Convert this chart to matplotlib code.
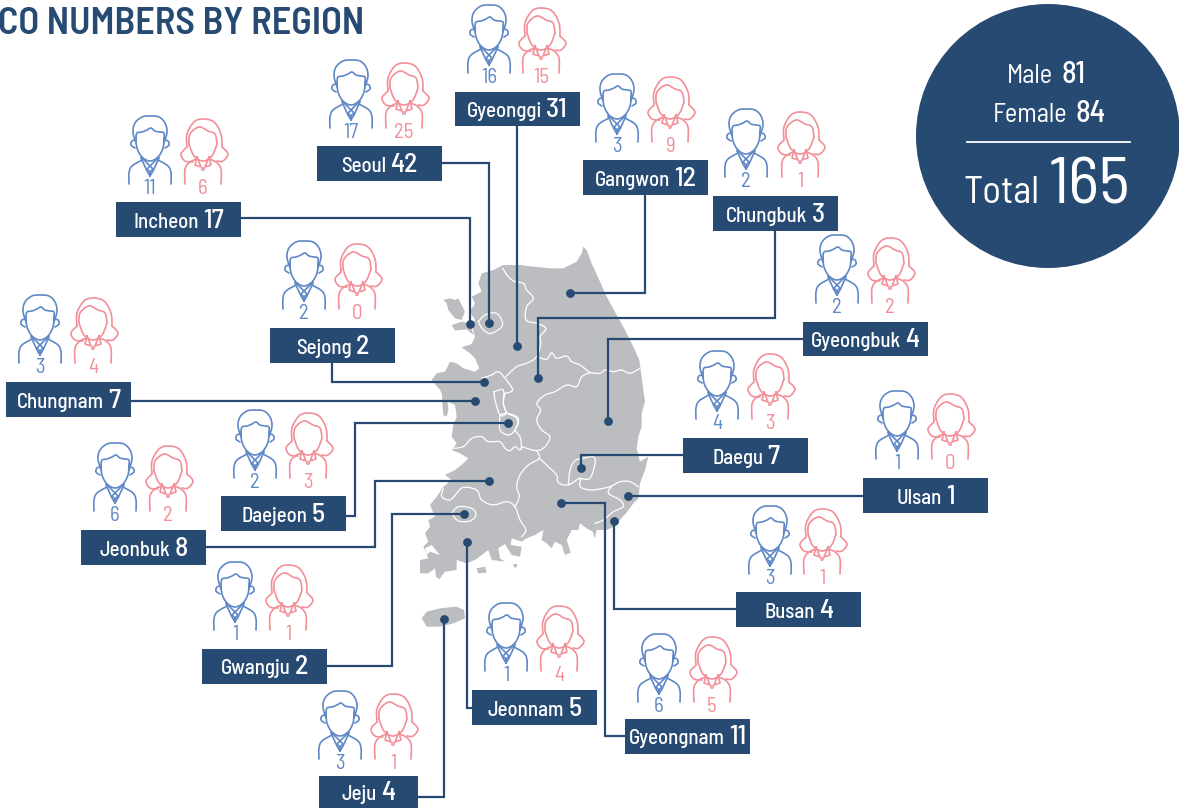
import numpy as np
import matplotlib
matplotlib.use('Agg')
import matplotlib.pyplot as plt
from matplotlib.patches import Circle, Polygon, Rectangle

# data
regions = ['Seoul', 'Gyeonggi', 'Gangwon', 'Chungbuk', 'Incheon', 'Sejong', 'Gyeongbuk', 'Chungnam', 'Daejeon',
           'Jeonbuk', 'Daegu', 'Ulsan', 'Busan', 'Gwangju', 'Jeonnam', 'Gyeongnam', 'Jeju']
male = [17, 16, 3, 2, 11, 2, 2, 3, 2, 6, 4, 1, 3, 1, 1, 6, 3]
female = [25, 15, 9, 1, 6, 0, 2, 4, 3, 2, 3, 0, 1, 1, 4, 5, 1]
totals = [42, 31, 12, 3, 17, 2, 4, 7, 5, 8, 7, 1, 4, 2, 5, 11, 4]
male_total = 81
female_total = 84
grand_total = 165

NAVY = '#264a72'
BLUE = '#5f88c6'
PINK = '#f28f98'
GREY = '#bcbdc1'
WORD_FONT = ['Barlow Semi Condensed', 'Roboto']
NUM_FONT = ['Barlow Semi Condensed', 'Roboto']

# layout, in pixels of the picture: box x0, x1, y0, y1
boxes = [(317, 442, 146, 181), (455, 580, 92, 126), (583, 708, 160, 195), (713, 838, 196, 231),
         (116, 241, 202, 237), (270, 395, 328, 363), (803, 928, 322, 356), (6, 131, 382, 417),
         (221, 346, 496, 531), (81, 206, 530, 565), (683, 808, 438, 473), (863, 988, 478, 513),
         (736, 861, 592, 627), (202, 327, 649, 684), (472, 597, 690, 725), (625, 750, 719, 754),
         (319, 418, 776, 808)]
# icon layout: male x, female x, top y
icons = [(351, 404, 60), (489, 541, 5), (617, 670, 74), (746, 800, 109), (150, 203, 116), (304, 357, 241),
         (837, 890, 235), (40, 93, 295), (255, 308, 410), (115, 168, 443), (717, 770, 351), (897, 950, 391),
         (770, 822, 506), (235, 288, 562), (506, 559, 603), (659, 712, 634), (340, 393, 691)]
leaders = [[(442, 163), (489, 163), (489, 323)],
           [(517, 126), (517, 346)],
           [(645, 195), (645, 293), (570, 293)],
           [(775, 231), (775, 318), (538, 318), (538, 378)],
           [(241, 218), (470, 218), (470, 324)],
           [(332, 363), (332, 382), (484, 382)],
           [(803, 339), (608, 339), (608, 421)],
           [(131, 401), (475, 401)],
           [(346, 516), (355, 516), (355, 423), (508, 423)],
           [(206, 547), (375, 547), (375, 481), (489, 481)],
           [(683, 455), (581, 455), (581, 468)],
           [(863, 496), (628, 496)],
           [(736, 609), (614, 609), (614, 521)],
           [(327, 666), (392, 666), (392, 514), (464, 514)],
           [(472, 708), (467, 708), (467, 542)],
           [(625, 736), (605, 736), (605, 503), (561, 503)],
           [(418, 797), (444, 797), (444, 619)]]

# map shapes
mainland = [(490, 20), (500, 30), (515, 70), (540, 125), (560, 170), (590, 225), (615, 270), (640, 320), (658, 360),
            (665, 410), (670, 450), (675, 485), (665, 520), (665, 560), (655, 590), (650, 625), (660, 665), (685, 650),
            (675, 690), (660, 730), (655, 775), (640, 790), (622, 815), (600, 840), (582, 860), (560, 870), (530, 870),
            (525, 895), (518, 875), (500, 865), (480, 850), (475, 870), (455, 870), (440, 900), (452, 938), (435, 945),
            (425, 915), (405, 905), (395, 925), (380, 910), (365, 900), (370, 870), (345, 885), (320, 895), (305, 905),
            (275, 895), (272, 915), (305, 920), (300, 950), (275, 945), (255, 912), (235, 925), (240, 955), (255, 965),
            (215, 960), (205, 930), (165, 960), (140, 970), (110, 960), (110, 990), (75, 995), (58, 1018), (48, 1010),
            (45, 985), (25, 1000), (0, 1000), (0, 960), (25, 955), (10, 920), (25, 905), (15, 880), (30, 860), (25, 840),
            (45, 830), (30, 795), (50, 770), (70, 740), (95, 720), (75, 705), (105, 690), (130, 670), (145, 655),
            (120, 640), (95, 630), (110, 610), (95, 590), (100, 555), (110, 530), (105, 495), (75, 480), (60, 450),
            (35, 420), (50, 400), (75, 395), (90, 365), (110, 370), (130, 385), (165, 395), (178, 385), (165, 355),
            (150, 340), (125, 322), (155, 312), (165, 290), (160, 275), (158, 250), (165, 240), (150, 215), (165, 190),
            (155, 170), (185, 155), (175, 130), (185, 100), (220, 90), (250, 75), (300, 75), (340, 80), (390, 85),
            (430, 85), (470, 65), (485, 40)]
islands = [[(70, 180), (90, 175), (105, 180), (115, 175), (135, 215), (125, 240), (105, 235), (85, 210), (80, 190)],
           [(95, 255), (125, 245), (150, 250), (160, 285), (140, 268), (105, 272)],
           [(65, 460), (80, 465), (85, 510), (80, 530), (70, 525)],
           [(170, 985), (195, 980), (200, 998), (175, 1000)],
           [(280, 972), (292, 972), (290, 982), (282, 982)],
           [(5, 1135), (20, 1115), (60, 1105), (110, 1100), (132, 1110), (135, 1135), (100, 1150), (60, 1160), (20, 1160)]]
bays = [[(15, 925), (35, 915), (60, 945), (45, 940), (30, 935), (20, 945)],
        [(330, 920), (345, 905), (350, 925), (335, 935)],
        [(395, 925), (410, 925), (405, 935)]]
borders = [[(248, 85), (265, 110), (285, 125), (310, 130), (320, 150), (340, 175), (320, 200), (318, 240), (350, 250),
            (378, 265), (360, 290), (362, 310), (350, 350), (320, 370), (290, 380), (258, 410)],
           [(185, 415), (215, 405), (235, 395), (255, 415), (278, 450), (255, 460)],
           [(350, 350), (380, 358), (395, 338), (410, 355), (440, 348), (455, 365), (480, 375), (510, 398)],
           [(510, 398), (540, 400), (555, 390), (580, 395), (605, 390), (630, 400), (660, 385)],
           [(510, 398), (485, 410), (470, 440), (440, 435), (405, 455), (375, 465), (350, 490), (362, 510), (350, 540),
            (365, 570), (390, 590), (375, 620), (350, 632), (305, 620)],
           [(255, 460), (250, 490), (262, 520), (285, 530), (295, 550), (285, 570), (300, 590), (305, 625)],
           [(222, 455), (250, 450), (250, 490), (258, 520), (240, 525), (225, 480), (222, 455)],
           [(240, 525), (262, 520), (295, 535), (285, 570), (265, 585), (240, 570), (240, 525)],
           [(95, 625), (130, 620), (155, 595), (185, 590), (205, 605), (240, 605), (255, 625), (270, 632), (285, 620),
            (300, 630), (305, 620)],
           [(350, 632), (358, 655), (325, 675), (300, 705), (290, 740), (298, 770), (285, 800)],
           [(358, 655), (385, 680), (410, 705), (415, 728), (445, 735), (480, 715), (480, 740), (510, 750), (550, 745),
            (575, 738), (600, 725), (630, 725), (655, 740)],
           [(70, 745), (65, 770), (90, 780), (110, 760), (130, 742), (170, 750), (185, 780), (220, 795), (260, 785),
            (285, 800), (300, 840), (318, 870), (305, 890)],
           [(445, 735), (450, 690), (465, 662), (490, 655), (520, 650), (525, 670), (510, 715), (480, 715)],
           [(575, 738), (565, 760), (600, 780), (610, 800), (580, 815), (550, 840), (525, 850)],
           [(95, 820), (115, 800), (155, 805), (168, 825), (150, 843), (115, 843), (95, 820)],
           [(175, 245), (195, 225), (230, 220), (248, 255), (215, 280), (190, 270), (175, 245)]]


def zoomed(pts):
    # traced on a 3x crop starting at (420, 240)
    return [(420 + x / 3, 240 + y / 3) for x, y in pts]


def smooth(pts, n=8):
    # catmull-rom through the points
    p = np.array(pts, dtype=float)
    p = np.vstack([p[0], p, p[-1]])
    out = []
    for i in range(1, len(p) - 2):
        for t in np.linspace(0, 1, n, endpoint=False):
            out.append(0.5 * (2 * p[i] + (p[i + 1] - p[i - 1]) * t
                              + (2 * p[i - 1] - 5 * p[i] + 4 * p[i + 1] - p[i + 2]) * t ** 2
                              + (3 * p[i] - p[i - 1] - 3 * p[i + 1] + p[i + 2]) * t ** 3))
    out.append(p[-2])
    return np.array(out)


def stroke(ax, pts, cx, top, color, curved=True, mirror=False):
    a = smooth(pts) if curved else np.array(pts, dtype=float)
    ax.plot(cx + a[:, 0], top + a[:, 1], color=color, lw=1.2, solid_capstyle='round')
    if mirror:
        ax.plot(cx - a[:, 0], top + a[:, 1], color=color, lw=1.2, solid_capstyle='round')


def draw_male(ax, cx, top):
    stroke(ax, [(-14, 27), (-17, 16), (-15, 7), (-8, 1), (0, 0), (9, 1), (15, 7), (17, 16), (14, 27)], cx, top, BLUE)
    stroke(ax, [(-14, 22), (-13, 17), (-8, 16), (-3, 14), (1, 12), (5, 15), (10, 16), (14, 17), (14, 22)], cx, top, BLUE)
    stroke(ax, [(-14, 22), (-13, 32), (-8, 41), (0, 45), (8, 41), (13, 32), (14, 22)], cx, top, BLUE)
    stroke(ax, [(-14, 24), (-18, 25), (-19, 29), (-15, 32)], cx, top, BLUE, mirror=True)
    stroke(ax, [(-21, 68), (-21, 57), (-18, 50), (-8, 44)], cx, top, BLUE, mirror=True)
    stroke(ax, [(-9, 41), (0, 50)], cx, top, BLUE, curved=False, mirror=True)
    stroke(ax, [(-9, 42), (-3, 55), (0, 60)], cx, top, BLUE, curved=False, mirror=True)
    stroke(ax, [(0, 50), (-3, 53), (0, 56), (0, 60)], cx, top, BLUE, curved=False, mirror=True)


def draw_female(ax, cx, top):
    stroke(ax, [(-16, 28), (-16, 15), (-9, 3), (0, 0), (11, 3), (18, 15), (19, 28)], cx, top, PINK)
    stroke(ax, [(19, 28), (25, 35), (20, 42), (14, 42)], cx, top, PINK)
    stroke(ax, [(-16, 28), (-22, 35), (-18, 42), (-10, 43)], cx, top, PINK)
    stroke(ax, [(-14, 25), (-13, 15), (-4, 8), (5, 12), (12, 15), (14, 25)], cx, top, PINK)
    stroke(ax, [(14, 25), (9, 37), (0, 42), (-9, 37), (-14, 25)], cx, top, PINK)
    stroke(ax, [(-6, 38), (-8, 46), (-2, 48), (-6, 38)], cx, top, PINK, curved=False)
    stroke(ax, [(6, 38), (8, 46), (2, 48), (6, 38)], cx, top, PINK, curved=False)
    ax.add_patch(Circle((cx, top + 50), 1.3, fc='none', ec=PINK, lw=1))
    stroke(ax, [(-18, 65), (-18, 50), (-13, 43), (-6, 40)], cx, top, PINK, mirror=True)


def pair(ax, xc, base, left, right, size_l, size_r, gap, wl='medium', wr='medium'):
    # word and number side by side, centred on xc
    r = fig.canvas.get_renderer()
    t1 = ax.text(0, base, left, color='white', fontsize=size_l, family=WORD_FONT, fontweight=wl,
                 va='baseline', ha='left', zorder=5)
    t2 = ax.text(0, base, right, color='white', fontsize=size_r, family=NUM_FONT, fontweight=wr,
                 va='baseline', ha='left', zorder=5)
    w1 = t1.get_window_extent(r).width
    w2 = t2.get_window_extent(r).width
    x0 = xc - (w1 + gap + w2) / 2
    t1.set_x(x0)
    t2.set_x(x0 + w1 + gap)


fig = plt.figure(figsize=(11.79, 8.08), dpi=100)
ax = fig.add_axes([0, 0, 1, 1])
ax.set_xlim(0, 1179)
ax.set_ylim(808, 0)
ax.axis('off')

ax.text(-2, 34, 'CO NUMBERS BY REGION', color=NAVY, fontsize=27.5, family=WORD_FONT, fontweight='semibold', va='baseline')

# map
ax.add_patch(Polygon(zoomed(mainland), closed=True, fc=GREY, ec='none'))
for isl in islands:
    ax.add_patch(Polygon(zoomed(isl), closed=True, fc=GREY, ec='none'))
for bay in bays:
    ax.add_patch(Polygon(zoomed(bay), closed=True, fc='white', ec='none'))
for b in borders:
    a = smooth(zoomed(b), n=4)
    ax.plot(a[:, 0], a[:, 1], color='white', lw=0.9)

# leaders and boxes
for line, box, name, total in zip(leaders, boxes, regions, totals):
    xs, ys = zip(*line)
    ax.plot(xs, ys, color=NAVY, lw=1.6, zorder=3, solid_joinstyle='miter')
    ax.scatter([xs[-1]], [ys[-1]], s=40, color=NAVY, zorder=4, linewidths=0)
    ax.add_patch(Rectangle((box[0], box[2]), box[1] - box[0], box[3] - box[2], fc=NAVY, ec='none', zorder=3))
    pair(ax, (box[0] + box[1]) / 2, (box[2] + box[3]) / 2 + 8, name, str(total), 15, 20, 4)

# people
for (mx, fx, top), m, f in zip(icons, male, female):
    draw_male(ax, mx, top)
    draw_female(ax, fx, top + 3)
    ax.text(mx, top + 78, str(m), color=BLUE, fontsize=15, family=NUM_FONT, ha='center', va='baseline')
    ax.text(fx, top + 78, str(f), color=PINK, fontsize=15, family=NUM_FONT, ha='center', va='baseline')

# totals circle
ax.add_patch(Circle((1048, 136), 132, fc=NAVY, ec='none'))
pair(ax, 1046, 83, 'Male', str(male_total), 19, 22, 8, wl='normal')
pair(ax, 1049, 122, 'Female', str(female_total), 19, 22, 8, wl='normal')
ax.plot([967, 1130], [142, 142], color='white', lw=1.3, zorder=5)
pair(ax, 1047, 203, 'Total', str(grand_total), 28, 48, 9, wl='normal', wr='normal')

fig.savefig('out.png', dpi=100)
